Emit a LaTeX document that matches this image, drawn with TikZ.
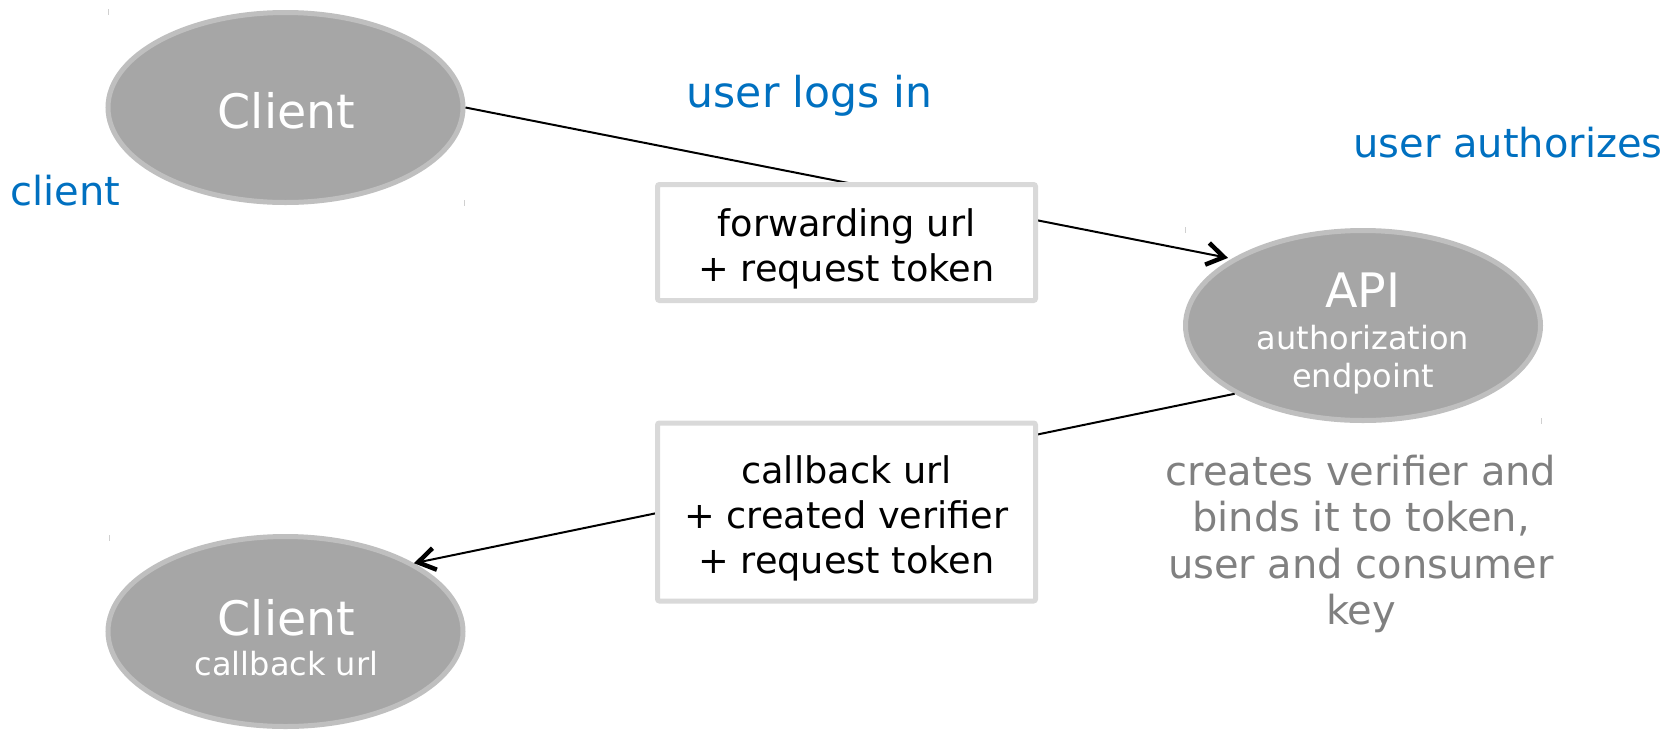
\documentclass[tikz,border=0pt]{standalone}
\usepackage{fontspec}
\setmainfont{DejaVu Sans}
\usetikzlibrary{arrows.meta,shapes.geometric}
\definecolor{ellfill}{HTML}{A6A6A6}
\definecolor{elldraw}{HTML}{BFBFBF}
\definecolor{boxdraw}{HTML}{D9D9D9}
\definecolor{lblblue}{HTML}{0070C0}
\definecolor{notegray}{HTML}{808080}
\definecolor{tickgray}{HTML}{D0D0D0}
\tikzset{
  ell/.style={ellipse, fill=ellfill, draw=elldraw, line width=5pt, minimum width=355pt, minimum height=190pt, inner sep=0pt},
  msgbox/.style={rectangle, fill=white, draw=boxdraw, line width=5pt, rounded corners=2pt, minimum width=378pt, inner sep=0pt},
  txt/.style={inner sep=0pt, anchor=base},
  big/.style={txt, text=white, font=\fontsize{47.5}{56}\selectfont},
  small/.style={txt, text=white, font=\fontsize{32}{38}\selectfont},
  boxtxt/.style={txt, text=black, font=\fontsize{36.7}{45}\selectfont},
  bluelbl/.style={txt, text=lblblue, font=\fontsize{40}{48}\selectfont},
  note/.style={txt, text=notegray, font=\fontsize{40}{47}\selectfont},
  conn/.style={line width=2pt, -{Straight Barb[length=17pt,width=22pt,line width=4.5pt]}},
  marktick/.style={tickgray, line width=1pt}
}
\begin{document}
\begin{tikzpicture}[x=1pt,y=-1pt]
\useasboundingbox (0,0) rectangle (1678,729);
% ellipses
\node[ell] (c1) at (285.5,107.5) {};
\node[ell] (api) at (1363,325.5) {};
\node[ell] (c2) at (285.5,631.5) {};
% tiny corner ticks
\draw[marktick] (108,9) -- (108,15);
\draw[marktick] (464,200) -- (464,206);
\draw[marktick] (1185,227) -- (1185,233);
\draw[marktick] (1541,418) -- (1541,424);
\draw[marktick] (109,535) -- (109,541);
% connectors
\draw[conn, shorten >=4pt] (c1.east) -- (api.153);
\draw[conn] (api.208) -- (c2.28);
% message boxes
\node[msgbox, minimum height=116pt] (b1) at (846.5,242.5) {};
\node[msgbox, minimum height=178pt] (b2) at (846.5,512) {};
% ellipse texts
\node[big] (c1t) at (286.5,128) {Client};
\node[big] (apit) at (1363,307) {API};
\node[small] (apis1) at (1363,349) {authorization};
\node[small] (apis2) at (1363,387) {endpoint};
\node[big] (c2t) at (286.5,635) {Client};
\node[small] (c2s) at (286.5,675) {callback url};
% box texts
\node[boxtxt] (b1a) at (846.5,236) {forwarding url};
\node[boxtxt] (b1b) at (846.5,281) {+ request token};
\node[boxtxt] (b2a) at (846.5,483) {callback url};
\node[boxtxt] (b2b) at (846.5,528) {+ created verifier};
\node[boxtxt] (b2c) at (846.5,573) {+ request token};
% blue labels
\node[bluelbl, font=\fontsize{42.5}{50}\selectfont] (l1) at (809.5,107) {user logs in};
\node[bluelbl] (l2) at (65.5,205) {client};
\node[bluelbl] (l3) at (1508,157) {user authorizes};
% note
\node[note] (n1) at (1361,485) {creates verifier and};
\node[note] (n2) at (1361,531.5) {binds it to token,};
\node[note] (n3) at (1361,578) {user and consumer};
\node[note] (n4) at (1361,624.5) {key};
\end{tikzpicture}
\end{document}
